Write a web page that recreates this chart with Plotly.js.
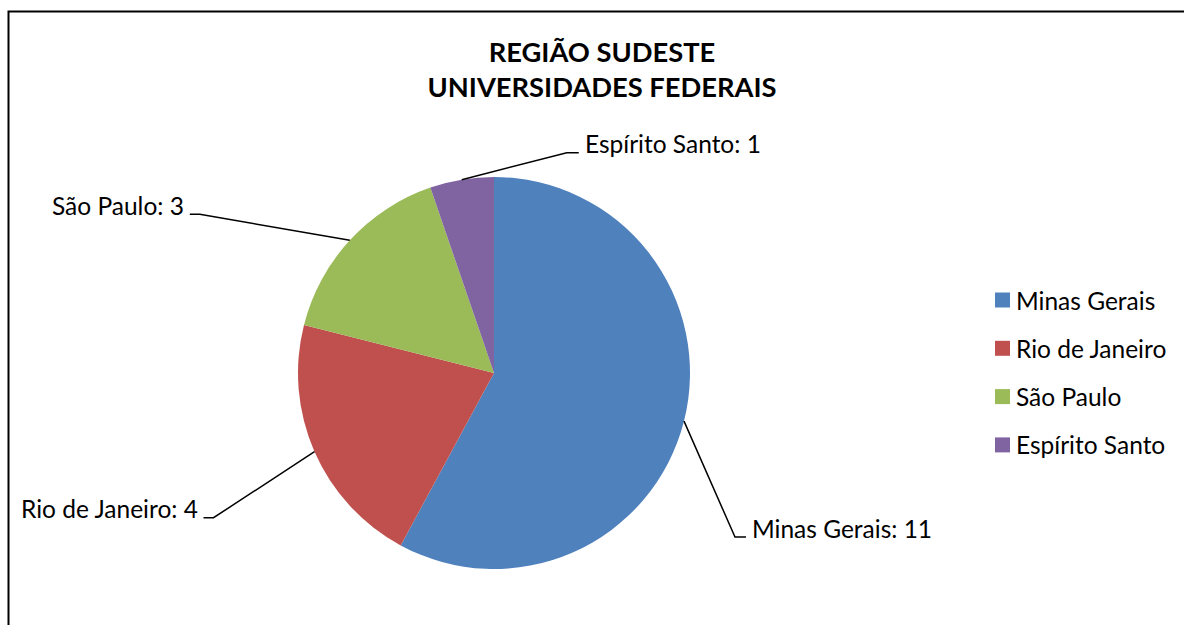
<!DOCTYPE html>
<html>
<head>
<meta charset="utf-8">
<script src="https://cdn.plot.ly/plotly-3.0.1.min.js"></script>
<style>html,body{margin:0;padding:0;background:#fff;}#chart{width:1184px;height:625px;}</style>
</head>
<body>
<div id="chart"></div>
<script>
// ---- data ----
const labels = ['Minas Gerais', 'Rio de Janeiro', 'São Paulo', 'Espírito Santo'];
const values = [11, 4, 3, 1];
const colors = ['#4F81BD', '#C0504D', '#9BBB59', '#8064A2'];
const titleLines = ['REGIÃO SUDESTE', 'UNIVERSIDADES FEDERAIS'];

// ---- layout constants (pixels) ----
const W = 1184, H = 625;
const CX = 494, CY = 373, R = 196;
// leader line elbow offsets from slice anchor, and horizontal tail length
const leaders = [
  {ex: 51, ey: 116, h: 11},
  {ex: -101, ey: 66, h: -10},
  {ex: -150, ey: -26, h: -10},
  {ex: 105, ey: -27, h: 12}
];
const FONT = 'Lato, "Open Sans", sans-serif';
const LBL_SIZE = 24.5;

const px = x => x / W;
const py = y => 1 - y / H;

const total = values.reduce((a, b) => a + b, 0);
const shapes = [];
const annotations = [];

// frame
shapes.push({type: 'rect', xref: 'paper', yref: 'paper',
  x0: px(8.5), x1: px(1200), y0: py(11.5), y1: py(660),
  line: {color: '#000', width: 2}, fillcolor: 'rgba(0,0,0,0)'});

let cum = 0;
values.forEach((v, i) => {
  const mid = (cum + v / 2) / total * 2 * Math.PI;
  cum += v;
  const ax = CX + R * Math.sin(mid), ay = CY - R * Math.cos(mid);
  const L = leaders[i];
  const exx = ax + L.ex, eyy = ay + L.ey;
  const tx = exx + L.h;
  shapes.push({type: 'path', xref: 'paper', yref: 'paper',
    path: `M ${px(ax)} ${py(ay)} L ${px(exx)} ${py(eyy)} L ${px(tx)} ${py(eyy)}`,
    line: {color: '#000', width: 1.5}});
  const right = L.h > 0;
  annotations.push({xref: 'paper', yref: 'paper', showarrow: false,
    x: px(tx + (right ? 4 : -4)), y: py(eyy - 9),
    xanchor: right ? 'left' : 'right', yanchor: 'middle',
    text: `${labels[i]}: ${v}`,
    font: {family: FONT, size: LBL_SIZE, color: '#000'}});
});

// custom legend
labels.forEach((lab, i) => {
  const yc = 300 + 48.3 * i;
  shapes.push({type: 'rect', xref: 'paper', yref: 'paper',
    x0: px(995), x1: px(1010), y0: py(yc - 7.5), y1: py(yc + 7.5),
    fillcolor: colors[i], line: {width: 0}});
  annotations.push({xref: 'paper', yref: 'paper', showarrow: false,
    x: px(1014), y: py(yc), xanchor: 'left', yanchor: 'middle',
    text: lab, font: {family: FONT, size: LBL_SIZE, color: '#000'}});
});

const trace = {
  type: 'pie',
  labels: labels,
  values: values,
  sort: false,
  direction: 'clockwise',
  rotation: 0,
  textinfo: 'none',
  hoverinfo: 'label+value+percent',
  marker: {colors: colors, line: {width: 0}},
  domain: {x: [px(CX - R), px(CX + R)], y: [py(CY + R), py(CY - R)]}
};

const layout = {
  width: W, height: H,
  margin: {l: 0, r: 0, t: 0, b: 0},
  paper_bgcolor: '#fff',
  showlegend: false,
  title: {
    text: '<b>' + titleLines.join('<br>') + '</b>',
    x: px(602), xanchor: 'center', xref: 'paper',
    y: py(62), yanchor: 'middle', yref: 'paper',
    font: {family: FONT, size: 27.3, color: '#000'}
  },
  shapes: shapes,
  annotations: annotations
};

Plotly.newPlot('chart', [trace], layout, {displayModeBar: false, staticPlot: true});
</script>
</body>
</html>
